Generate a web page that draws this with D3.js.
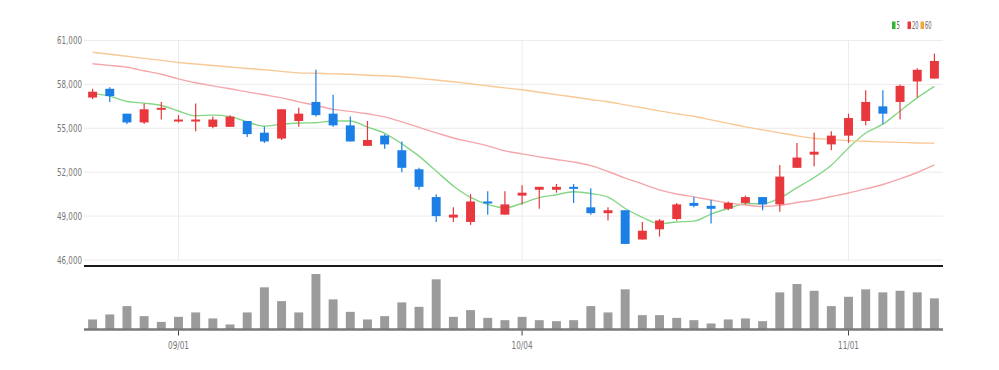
<!DOCTYPE html>
<html>
<head>
<meta charset="utf-8">
<script src="https://cdn.jsdelivr.net/npm/d3@7/dist/d3.min.js"></script>
<style>
  body { margin: 0; background: #fff; }
  text { font-family: "Liberation Sans Narrow", "DejaVu Sans Condensed", "Roboto", sans-serif; }
</style>
</head>
<body>
<div id="chart"></div>
<script>
// daily candles + moving averages + volume

var dates = ["08/25","08/26","08/29","08/30","08/31","09/01","09/02","09/05","09/06","09/07",
  "09/08","09/13","09/14","09/15","09/16","09/19","09/20","09/21","09/22","09/23",
  "09/26","09/27","09/28","09/29","09/30","10/04","10/05","10/06","10/07","10/11",
  "10/12","10/13","10/14","10/17","10/18","10/19","10/20","10/21","10/24","10/25",
  "10/26","10/27","10/28","10/31","11/01","11/02","11/03","11/04","11/07","11/08"];

var open = [57100,57700,56000,55400,56300,55500,55500,55100,55100,55500,
  54700,54300,55500,56800,56000,55200,53800,54500,53500,52200,
  50300,48900,48600,50000,49100,50400,50800,50800,51000,49600,
  49200,49400,47400,48100,48800,49900,49700,49500,49900,50300,
  49800,52300,53200,53900,54500,55500,56500,56800,58200,58400];

var high = [57700,57800,56000,56700,56800,55900,56700,55800,55900,55500,
  55100,56300,56400,59000,57300,55800,55500,54600,54100,52300,
  50500,49600,50500,50700,50700,51100,51000,51200,51200,50900,
  49600,49400,48600,48800,49900,50300,50100,50000,50400,50300,
  52500,54000,54700,54800,56000,57600,57600,58000,59100,60100];

var low = [57000,56800,55300,55300,55600,55400,54800,55000,55100,54400,
  54000,54200,55100,55800,55100,54100,53800,53600,52000,50800,
  48600,48600,48400,49100,49100,49800,49500,50600,49900,49100,
  48700,47100,47400,47600,48700,49600,48500,49400,49800,49400,
  49300,52300,52400,53500,54000,55200,55300,55600,57100,58400];

var close = [57500,57200,55400,56300,56400,55600,55600,55600,55800,54600,
  54100,56300,56000,55900,55200,54100,54200,53900,52300,51000,
  49000,49100,50000,49900,49800,50600,51000,51000,50900,49200,
  49400,47100,48000,48700,49800,49700,49500,49900,50300,49800,
  51700,53000,53400,54500,55700,56800,56000,57900,59000,59600];

var ma5 = [57390,57200,56830,56720,56560,56180,55860,55900,55800,55440,
  55140,55280,55360,55380,55500,55500,55080,54660,53940,53100,
  52080,51060,50280,49800,49560,49880,50260,50460,50660,50540,
  50300,49520,48920,48480,48600,48660,49140,49520,49840,49840,
  50240,50940,51640,52480,53660,54680,55280,56180,57080,57860];

var ma20 = [59410,59300,59170,58930,58690,58380,58110,57900,57700,57490,
  57290,57080,56810,56570,56290,56160,55990,55780,55440,55060,
  54690,54340,54070,53800,53460,53250,53050,52870,52700,52450,
  52050,51600,51200,50790,50510,50310,50100,49900,49760,49660,
  49730,49930,50100,50340,50580,50860,51160,51540,51980,52500];

var ma60 = [60200,60060,59920,59780,59640,59500,59390,59290,59190,59090,
  59000,58890,58790,58760,58720,58690,58630,58590,58520,58410,
  58300,58180,58040,57900,57760,57630,57460,57300,57140,56970,
  56810,56600,56400,56190,55990,55820,55580,55340,55100,54890,
  54690,54480,54320,54240,54160,54110,54070,54040,54000,53980];

var volume = [5000,7500,11650,6650,3800,6300,8500,5500,2500,8500,
  21000,14150,8500,27650,15000,8800,5000,6650,13500,11300,
  25000,6300,9650,5800,4650,6300,4650,4150,4650,11650,
  8500,20000,7150,7150,5800,4650,3000,5000,5500,4150,
  18500,22650,19300,11650,16300,20000,18500,19300,18500,15500];

var priceTicks = [46000,49000,52000,55000,58000,61000];
var dateTicks = ["09/01","10/04","11/01"];
var maNames = ["5","20","60"];

var W = 999, H = 370;
var left = 84, right = 943;
var priceTop = 40.5, priceBottom = 260;
var volTop = 274, volBottom = 329.5;

var upColor = "#e8383d", downColor = "#1b7fe6";
var maColors = ["#86d686","#f5a6ab","#f9c896"];
var legendColors = ["#2fb82f","#e8383d","#f5a540"];

var svg = d3.select("#chart").append("svg")
  .attr("width", W).attr("height", H);

var x = d3.scaleBand()
  .domain(dates)
  .range([left, right])
  .paddingInner(0.48)
  .paddingOuter(0.24);

var y = d3.scaleLinear()
  .domain([46000, 61000])
  .range([priceBottom, priceTop]);

var yv = d3.scaleLinear()
  .domain([0, d3.max(volume)])
  .range([volBottom, volTop]);

var cx = function(d) { return x(d) + x.bandwidth() / 2; };

// horizontal grid
svg.append("g")
  .selectAll("line")
  .data(priceTicks)
  .enter().append("line")
  .attr("x1", left).attr("x2", right)
  .attr("y1", function(d) { return y(d); })
  .attr("y2", function(d) { return y(d); })
  .attr("stroke", "#ececec")
  .attr("stroke-width", 1);

// vertical grid
svg.append("g")
  .selectAll("line")
  .data(dateTicks)
  .enter().append("line")
  .attr("x1", function(d) { return cx(d); })
  .attr("x2", function(d) { return cx(d); })
  .attr("y1", priceTop).attr("y2", priceBottom)
  .attr("stroke", "#ececec");

// y labels
svg.append("g")
  .selectAll("text")
  .data(priceTicks)
  .enter().append("text")
  .attr("x", left - 2)
  .attr("y", function(d) { return y(d); })
  .attr("dy", "0.35em")
  .attr("text-anchor", "end")
  .attr("font-size", "11px")
  .attr("fill", "#777")
  .attr("textLength", 25)
  .attr("lengthAdjust", "spacingAndGlyphs")
  .text(function(d) { return d3.format(",")(d); });

// moving averages
var mas = [ma5, ma20, ma60];
var line = d3.line()
  .x(function(d, i) { return cx(dates[i]); })
  .y(function(d) { return y(d); })
  .curve(d3.curveMonotoneX);

mas.forEach(function(m, k) {
  svg.append("path")
    .datum(m)
    .attr("d", line)
    .attr("fill", "none")
    .attr("stroke", maColors[k])
    .attr("stroke-width", 1.4);
});

// candles
var idx = d3.range(dates.length);
var candleColor = function(i) { return close[i] >= open[i] ? upColor : downColor; };

svg.append("g")
  .selectAll("line")
  .data(idx)
  .enter().append("line")
  .attr("x1", function(i) { return cx(dates[i]); })
  .attr("x2", function(i) { return cx(dates[i]); })
  .attr("y1", function(i) { return y(high[i]); })
  .attr("y2", function(i) { return y(low[i]); })
  .attr("stroke", candleColor)
  .attr("stroke-width", 1.2);

svg.append("g")
  .selectAll("rect")
  .data(idx)
  .enter().append("rect")
  .attr("x", function(i) { return x(dates[i]); })
  .attr("width", x.bandwidth())
  .attr("y", function(i) { return y(Math.max(open[i], close[i])); })
  .attr("height", function(i) { return Math.max(2, Math.abs(y(open[i]) - y(close[i]))); })
  .attr("fill", candleColor);

// separator
svg.append("line")
  .attr("x1", left).attr("x2", right)
  .attr("y1", 266).attr("y2", 266)
  .attr("stroke", "#1a1a1a")
  .attr("stroke-width", 2);

// volume bars
svg.append("g")
  .selectAll("rect")
  .data(idx)
  .enter().append("rect")
  .attr("x", function(i) { return x(dates[i]); })
  .attr("width", x.bandwidth())
  .attr("y", function(i) { return yv(volume[i]); })
  .attr("height", function(i) { return volBottom - yv(volume[i]); })
  .attr("fill", "#9b9b9b");

// volume axis
svg.append("line")
  .attr("x1", left).attr("x2", right)
  .attr("y1", volBottom).attr("y2", volBottom)
  .attr("stroke", "#7a7a7a")
  .attr("stroke-width", 2.5);

var xAxis = svg.append("g")
  .attr("transform", "translate(0," + (volBottom + 1) + ")")
  .call(d3.axisBottom(x).tickValues(dateTicks).tickSize(5).tickPadding(6));
xAxis.select(".domain").remove();
xAxis.selectAll("line").attr("stroke", "#444");
xAxis.selectAll("text")
  .attr("font-size", "11px")
  .attr("fill", "#777")
  .attr("textLength", 21)
  .attr("lengthAdjust", "spacingAndGlyphs")
  .style("font-family", "'Liberation Sans Narrow', 'DejaVu Sans Condensed', sans-serif");

// legend
var lx = [892, 907.5, 920.5];
var lw = [3.5, 6.6, 6.6];
var legend = svg.append("g");
maNames.forEach(function(n, k) {
  legend.append("rect")
    .attr("x", lx[k]).attr("y", 21.5)
    .attr("width", 3.5).attr("height", 7.5)
    .attr("fill", legendColors[k]);
  legend.append("text")
    .attr("x", lx[k] + 4.5).attr("y", 29)
    .attr("font-size", "10px")
    .attr("fill", "#666")
    .attr("textLength", lw[k])
    .attr("lengthAdjust", "spacingAndGlyphs")
    .text(n);
});
</script>
</body>
</html>
